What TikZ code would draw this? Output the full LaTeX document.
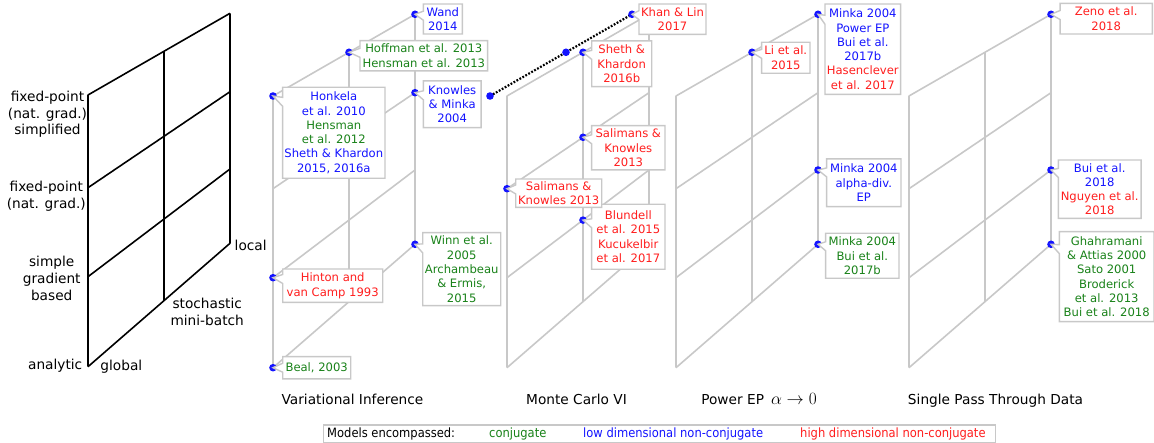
\documentclass[tikz,border=0pt]{standalone}
\usepackage{fontspec}
\setmainfont{DejaVu Sans}
\newfontfamily\condfont[FakeStretch=0.9]{DejaVu Sans}
\usetikzlibrary{shapes.callouts}
\definecolor{lgrey}{RGB}{200,200,200}
\definecolor{cblue}{RGB}{20,20,255}
\definecolor{cred}{RGB}{255,30,30}
\definecolor{cgreen}{RGB}{25,130,25}
\tikzset{
  cbox/.style={rectangle callout, draw=lgrey, line width=1.4pt, fill=white,
    align=center, inner sep=0pt, font=\fontsize{11.6pt}{14.3pt}\selectfont,
    callout pointer width=9pt},
  lab/.style={align=center, inner sep=0pt, font=\fontsize{13.7pt}{16.7pt}\selectfont},
  legtext/.style={anchor=base west, inner sep=0pt, font=\condfont\fontsize{12.8pt}{15pt}\selectfont},
  bdot/.style={fill=cblue},
  pics/panel/.style={code={
    \coordinate (-L0) at (0,0);
    \coordinate (-L1) at (0,92.7);
    \coordinate (-L2) at (0,181.7);
    \coordinate (-L3) at (0,271.7);
    \coordinate (-M0) at (76,-43.7);
    \coordinate (-M1) at (76,41.3);
    \coordinate (-M2) at (76,124.1);
    \coordinate (-M3) at (76,205.3);
    \coordinate (-R0) at (142,-81.7);
    \coordinate (-R1) at (142,-3.3);
    \coordinate (-R2) at (142,74);
    \coordinate (-R3) at (142,148.3);
    \draw[#1, line width=1.6pt] (-L0)--(-L3) (-M0)--(-M3) (-R0)--(-R3)
      (-L0)--(-R0) (-L1)--(-R1) (-L2)--(-R2) (-L3)--(-R3);
  }}
}
\begin{document}
\begin{tikzpicture}[x=1pt,y=-1pt]
\useasboundingbox (0,0) rectangle (1154,443);

% panels
\pic (bk) at (88,95) {panel=black};
\pic (vi) at (273,96) {panel=lgrey};
\pic (mc) at (507,96) {panel=lgrey};
\pic (pe) at (676,96) {panel=lgrey};
\pic (sp) at (909,96) {panel=lgrey};

% axis labels
\node[lab] (lfps) at (47.5,114.5) {fixed-point\\(nat. grad.)\\simplified};
\node[lab] (lfp) at (46.3,196) {fixed-point\\(nat. grad.)};
\node[lab] (lsg) at (51.7,278.3) {simple\\gradient\\based};
\node[lab] (lan) at (55.2,365.7) {analytic};
\node[lab] (lgl) at (121.3,366.7) {global};
\node[lab] (lst) at (207.2,311.7) {stochastic\\mini-batch};
\node[lab] (llo) at (250.7,245.7) {local};

% dotted line
\coordinate (d1) at (490,96);
\coordinate (d2) at (566,52.3);
\coordinate (d3) at (632,14.3);
\draw[line width=2.2pt, dash pattern=on 1.8pt off 1.6pt] (d1)--(d2)--(d3);

% dots
\foreach \p in {vi-L0,vi-M0,vi-R0,vi-R1,vi-R3,vi-L2,vi-L3,
                mc-M0,mc-M1,mc-L1,mc-M2,
                pe-M0,pe-R0,pe-R2,pe-R3,
                sp-R0,sp-R2,sp-R3,d1,d2,d3}
  \fill[bdot] (\p) circle[radius=3.8pt];

% Variational Inference
\node[cbox, text=cblue, minimum width=39pt, minimum height=30pt,
  callout absolute pointer={(vi-R0)}] (wand) at (442.8,19) {Wand\\2014};
\node[cbox, text=cgreen, minimum width=127.7pt, minimum height=30.3pt,
  callout absolute pointer={(vi-M0)}] (hoff) at (423.8,55.8) {Hoffman et al. 2013\\Hensman et al. 2013};
\node[cbox, text=cblue, minimum width=57.7pt, minimum height=46.7pt,
  callout absolute pointer={(vi-R1)}] (know) at (452.2,104.3) {Knowles\\\& Minka\\2004};
\node[cbox, text=cblue, minimum width=102.3pt, minimum height=91pt,
  callout absolute pointer={(vi-L0)}] (honk) at (333.8,132.8)
  {Honkela\\et al. 2010\\\color{cgreen}Hensman\\\color{cgreen}et al. 2012\\Sheth \& Khardon\\2015, 2016a};
\node[cbox, text=cred, minimum width=100pt, minimum height=33.3pt,
  callout absolute pointer={(vi-L2)}] (hint) at (332.7,285.7) {Hinton and\\van Camp 1993};
\node[cbox, text=cgreen, minimum width=78pt, minimum height=73pt,
  callout absolute pointer={(vi-R3)}] (winn) at (461.7,269.2) {Winn et al.\\2005\\Archambeau\\\& Ermis,\\2015};
\node[cbox, text=cgreen, minimum width=68pt, minimum height=22.3pt,
  callout absolute pointer={(vi-L3)}] (beal) at (316.7,367.8) {Beal, 2003};

% Monte Carlo VI
\node[cbox, text=cred, minimum width=67pt, minimum height=30.3pt,
  callout absolute pointer={(d3)}] (khan) at (672.5,19.2) {Khan \& Lin\\2017};
\node[cbox, text=cred, minimum width=60pt, minimum height=45.7pt,
  callout absolute pointer={(mc-M0)}] (sheth) at (621.7,63.8) {Sheth \&\\Khardon\\2016b};
\node[cbox, text=cred, minimum width=73.3pt, minimum height=44.3pt,
  callout absolute pointer={(mc-M1)}] (salA) at (628.3,147.8) {Salimans \&\\Knowles\\2013};
\node[cbox, text=cred, minimum width=73.3pt, minimum height=65pt,
  callout absolute pointer={(mc-M2)}] (blun) at (628.3,236.8) {Blundell\\et al. 2015\\Kucukelbir\\et al. 2017};
\node[cbox, text=cred, minimum width=86pt, minimum height=28.3pt,
  callout absolute pointer={(mc-L1)}] (salB) at (558.7,193.2) {Salimans \&\\Knowles 2013};

% Power EP
\node[cbox, text=cblue, minimum width=75.7pt, minimum height=90.3pt,
  callout absolute pointer={(pe-R0)}] (mpep) at (862.8,49.2)
  {Minka 2004\\Power EP\\Bui et al.\\2017b\\\color{cred}Hasenclever\\\color{cred}et al. 2017};
\node[cbox, text=cred, minimum width=48.3pt, minimum height=31pt,
  callout absolute pointer={(pe-M0)}] (li) at (785.8,57.8) {Li et al.\\2015};
\node[cbox, text=cblue, minimum width=74.3pt, minimum height=47.7pt,
  callout absolute pointer={(pe-R2)}] (malpha) at (863.8,182.8) {Minka 2004\\alpha-div.\\EP};
\node[cbox, text=cgreen, minimum width=73.3pt, minimum height=45pt,
  callout absolute pointer={(pe-R3)}] (mbui) at (862.3,255.8) {Minka 2004\\Bui et al.\\2017b};

% Single pass
\node[cbox, text=cred, minimum width=92.3pt, minimum height=30.7pt,
  callout absolute pointer={(sp-R0)}] (zeno) at (1106.2,18.7) {Zeno et al.\\2018};
\node[cbox, text=cblue, minimum width=82.7pt, minimum height=58.3pt,
  callout absolute pointer={(sp-R2)}] (buin) at (1099.7,189.2)
  {Bui et al.\\2018\\\color{cred}Nguyen et al.\\\color{cred}2018};
\node[cbox, text=cgreen, minimum width=94.7pt, minimum height=90pt,
  callout absolute pointer={(sp-R3)}] (ghah) at (1106.7,276.7)
  {Ghahramani\\\& Attias 2000\\Sato 2001\\Broderick\\et al. 2013\\Bui et al. 2018};

% titles
\node[lab, anchor=base] (tvi) at (352.5,405) {Variational Inference};
\node[lab, anchor=base] (tmc) at (576.5,405) {Monte Carlo VI};
\node[lab, anchor=base] (tpe) at (759,405) {Power EP\hspace{7pt}{\fontsize{17pt}{20pt}\selectfont$\alpha\rightarrow 0$}};
\node[lab, anchor=base] (tsp) at (995.5,405) {Single Pass Through Data};

% legend
\node[draw=lgrey, line width=1.2pt, minimum width=672pt, minimum height=17.5pt,
  inner sep=0pt, anchor=north west] (leg) at (323,424.5) {};
\node[legtext] (lg0) at (327,438) {Models encompassed:};
\node[legtext, text=cgreen] (lg1) at (489,438) {conjugate};
\node[legtext, text=cblue] (lg2) at (583,438) {low dimensional non-conjugate};
\node[legtext, text=cred] (lg3) at (800,438) {high dimensional non-conjugate};
\end{tikzpicture}
\end{document}
